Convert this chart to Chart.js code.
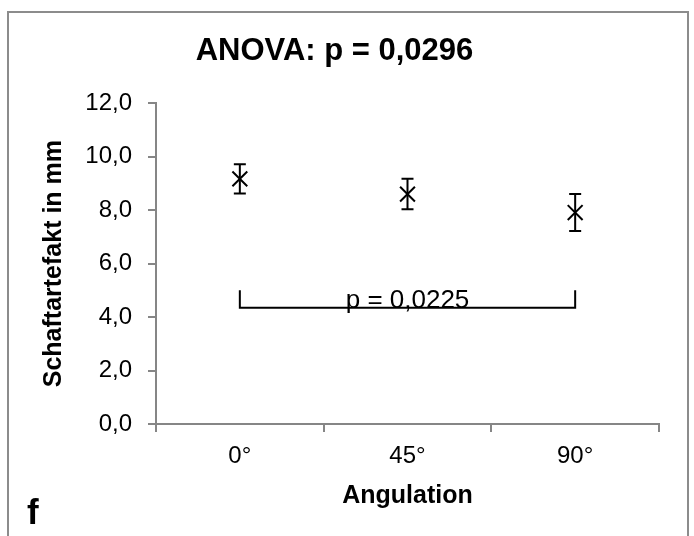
<!DOCTYPE html>
<html>
<head>
<meta charset="utf-8">
<script src="https://cdn.jsdelivr.net/npm/chart.js@4/dist/chart.umd.min.js"></script>
<style>
  html, body { margin: 0; padding: 0; background: #fff; }
  canvas { display: block; }
</style>
</head>
<body>
<canvas id="chart" width="694" height="536"></canvas>
<script>
const categories = ['0°', '45°', '90°'];
const means = [9.17, 8.6, 7.91];
const sds = [0.55, 0.57, 0.69];
const bracketLevel = 4.35;
const bracketTip = 5.0;
const bracketLabel = 'p = 0,0225';
const titleText = 'ANOVA: p = 0,0296';
const panelLetter = 'f';

const FONT = "'Liberation Sans', Arial, sans-serif";
const AXIS_GREY = '#868686';

// frame, error bars, significance bracket, panel letter
const extras = {
  id: 'extras',
  beforeDraw(chart) {
    const ctx = chart.ctx;
    ctx.save();
    ctx.strokeStyle = '#8c8c8c';
    ctx.lineWidth = 2;
    ctx.strokeRect(8, 12, 680, 560);
    ctx.restore();
  },
  afterDatasetsDraw(chart) {
    const ctx = chart.ctx;
    const x = chart.scales.x, y = chart.scales.y;
    ctx.save();
    ctx.strokeStyle = '#000';
    ctx.lineWidth = 2;
    means.forEach((m, i) => {
      const px = x.getPixelForValue(i);
      const top = y.getPixelForValue(m + sds[i]);
      const bot = y.getPixelForValue(m - sds[i]);
      ctx.beginPath();
      ctx.moveTo(px, top); ctx.lineTo(px, bot);
      ctx.moveTo(px - 6, top); ctx.lineTo(px + 6, top);
      ctx.moveTo(px - 6, bot); ctx.lineTo(px + 6, bot);
      ctx.stroke();
    });

    const x0 = x.getPixelForValue(0), x2 = x.getPixelForValue(2);
    const yl = y.getPixelForValue(bracketLevel), yt = y.getPixelForValue(bracketTip);
    ctx.beginPath();
    ctx.moveTo(x0, yt); ctx.lineTo(x0, yl); ctx.lineTo(x2, yl); ctx.lineTo(x2, yt);
    ctx.stroke();

    ctx.fillStyle = '#000';
    ctx.font = '26px ' + FONT;
    ctx.textAlign = 'center';
    ctx.textBaseline = 'alphabetic';
    ctx.fillText(bracketLabel, x.getPixelForValue(1), yl);

    ctx.textAlign = 'left';
    ctx.font = 'bold 35px ' + FONT;
    ctx.fillText(panelLetter, 27, 524);
    ctx.restore();
  }
};

new Chart(document.getElementById('chart'), {
  type: 'line',
  data: {
    labels: categories,
    datasets: [{
      data: means,
      showLine: false,
      pointStyle: 'crossRot',
      pointRadius: 10.5,
      pointBorderWidth: 2,
      pointBorderColor: '#000',
      pointBackgroundColor: '#000'
    }]
  },
  options: {
    responsive: false,
    animation: false,
    layout: { padding: { left: 10, right: 35, top: 12, bottom: 12 } },
    plugins: {
      legend: { display: false },
      tooltip: { enabled: false },
      title: {
        display: true,
        text: titleText,
        color: '#000',
        font: { family: FONT, size: 31, weight: 'bold' },
        padding: { top: 21, bottom: 33 }
      }
    },
    scales: {
      x: {
        type: 'category',
        offset: true,
        afterFit(s) { s.height = 100; },
        grid: { drawOnChartArea: false, drawTicks: true, tickLength: 8, color: AXIS_GREY, lineWidth: 2, offset: true },
        border: { color: AXIS_GREY, width: 2 },
        ticks: { color: '#000', padding: 10, font: { family: FONT, size: 24 } },
        title: {
          display: true,
          text: 'Angulation',
          color: '#000',
          font: { family: FONT, size: 25, weight: 'bold' },
          padding: { top: 0, bottom: 13 }
        }
      },
      y: {
        min: 0,
        max: 12,
        afterFit(s) { s.width = 146; },
        grid: { drawOnChartArea: false, drawTicks: true, tickLength: 8, color: AXIS_GREY, lineWidth: 2 },
        border: { color: AXIS_GREY, width: 2 },
        ticks: {
          stepSize: 2,
          color: '#000',
          padding: 16,
          font: { family: FONT, size: 24 },
          callback: v => v.toFixed(1).replace('.', ',')
        },
        title: {
          display: true,
          text: 'Schaftartefakt in mm',
          color: '#000',
          font: { family: FONT, size: 25, weight: 'bold' },
          padding: { top: 29, bottom: 0 }
        }
      }
    }
  },
  plugins: [extras]
});
</script>
</body>
</html>
